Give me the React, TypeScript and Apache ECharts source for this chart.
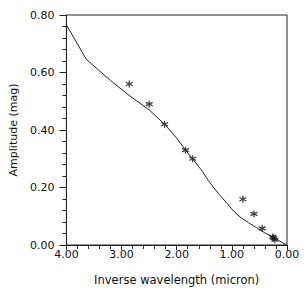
import React, { useEffect, useRef } from "react";
import * as echarts from "echarts";

const curveX = [4.0, 3.64, 3.2, 2.86, 2.5, 2.22, 2.0, 1.84, 1.715, 1.55, 1.43, 1.25, 1.1, 0.97, 0.83, 0.7, 0.55, 0.4, 0.23, 0.1, 0.0];
const curveY = [0.766, 0.646, 0.572, 0.52, 0.47, 0.42, 0.372, 0.33, 0.3, 0.26, 0.225, 0.18, 0.148, 0.118, 0.094, 0.078, 0.06, 0.042, 0.025, 0.01, 0.0];

const obsX = [2.86, 2.5, 2.22, 1.84, 1.71, 0.8, 0.6, 0.45, 0.26, 0.24, 0.22];
const obsY = [0.56, 0.49, 0.42, 0.33, 0.3, 0.159, 0.108, 0.058, 0.028, 0.024, 0.018];

const xTicks = [0, 1, 2, 3, 4];
const yTicks = [0, 0.2, 0.4, 0.6, 0.8];

const asterisk = "path://M5 0 L5 10 M0.67 2.5 L9.33 7.5 M0.67 7.5 L9.33 2.5";

export default function App() {
  const ref = useRef<HTMLDivElement>(null);
  useEffect(() => {
    if (!ref.current) return;
    const chart = echarts.init(ref.current, undefined, { renderer: "svg" });
    const font = "DejaVu Sans";
    chart.setOption({
      animation: false,
      backgroundColor: "#fff",
      textStyle: { fontFamily: font },
      grid: {
        left: 53,
        right: 20,
        top: 15,
        bottom: 43,
        show: true,
        borderColor: "#222",
        borderWidth: 1,
      },
      xAxis: {
        type: "value",
        inverse: true,
        min: xTicks[0],
        max: xTicks[xTicks.length - 1],
        interval: 1,
        name: "Inverse wavelength (micron)",
        nameLocation: "middle",
        nameGap: 29,
        nameTextStyle: { fontSize: 11.5, color: "#111", fontFamily: font },
        axisLine: { show: true, onZero: false, lineStyle: { color: "#222", width: 1 } },
        axisTick: { show: true, inside: false, length: 5, lineStyle: { color: "#222", width: 1 } },
        minorTick: { show: true, splitNumber: 5, length: 4, lineStyle: { color: "#222", width: 1 } },
        splitLine: { show: false },
        axisLabel: {
          fontSize: 11,
          color: "#111",
          margin: 4,
          formatter: (v: number) => v.toFixed(2),
        },
      },
      yAxis: {
        type: "value",
        min: yTicks[0],
        max: yTicks[yTicks.length - 1],
        interval: 0.2,
        name: "Amplitude (mag)",
        nameLocation: "middle",
        nameGap: 46,
        nameTextStyle: { fontSize: 11, color: "#111", fontFamily: font },
        axisLine: { show: true, onZero: false, lineStyle: { color: "#222", width: 1 } },
        axisTick: { show: true, inside: false, length: 7, lineStyle: { color: "#222", width: 1 } },
        minorTick: { show: true, splitNumber: 5, length: 4, lineStyle: { color: "#222", width: 1 } },
        splitLine: { show: false },
        axisLabel: {
          fontSize: 11,
          color: "#111",
          margin: 12,
          formatter: (v: number) => v.toFixed(2),
        },
      },
      series: [
        {
          type: "line",
          data: curveX.map((x, i) => [x, curveY[i]]),
          showSymbol: false,
          lineStyle: { color: "#222", width: 1 },
          silent: true,
        },
        {
          type: "scatter",
          data: obsX.map((x, i) => [x, obsY[i]]),
          symbol: asterisk,
          symbolSize: 7,
          itemStyle: { color: "transparent", borderColor: "#111", borderWidth: 1.3 },
        },
      ],
    });
    return () => chart.dispose();
  }, []);
  return (
    <div
      ref={ref}
      style={{ position: "absolute", left: 0, top: 0, width: 307, height: 291 }}
    />
  );
}
